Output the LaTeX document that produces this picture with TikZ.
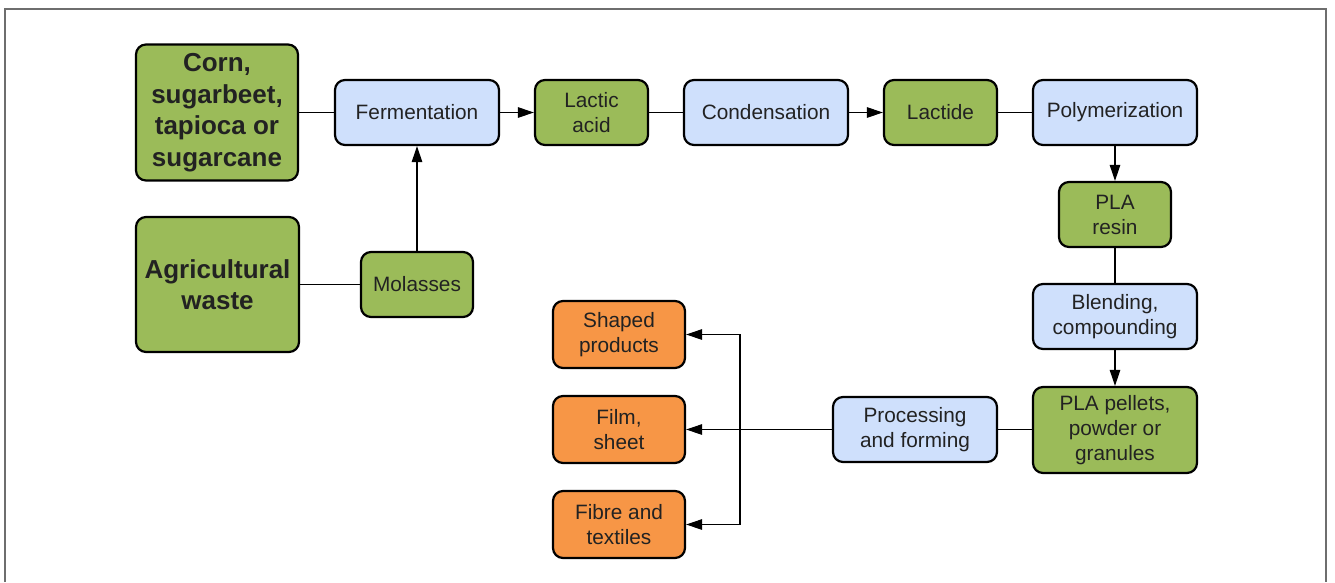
\documentclass[tikz,border=0pt]{standalone}
\usepackage{fontspec}
\setmainfont{Liberation Sans}
\usetikzlibrary{arrows.meta}
\definecolor{boxgreen}{HTML}{9BBB59}
\definecolor{boxblue}{HTML}{CFE0FC}
\definecolor{boxorange}{HTML}{F79646}
\definecolor{txt}{HTML}{222222}
\definecolor{framegray}{HTML}{6E6E6E}
\tikzset{
  box/.style={draw=black, line width=2.2pt, rounded corners=10pt, inner sep=0pt,
    align=center, text=txt, font=\fontsize{20.8}{25}\selectfont},
  gbox/.style={box, fill=boxgreen},
  bbox/.style={box, fill=boxblue},
  obox/.style={box, fill=boxorange},
  big/.style={font=\fontsize{26}{31.5}\selectfont\bfseries},
  conn/.style={draw=black, line width=1.1pt},
  arr/.style={conn, -{Triangle[length=16pt,width=10.5pt]}}
}
\begin{document}
\begin{tikzpicture}[x=1pt,y=-1pt]
\useasboundingbox (0,0) rectangle (1335,582);
\draw[framegray, line width=1.6pt] (5,582) -- (5,9) -- (1326,9) -- (1326,582);

\node[gbox, big, minimum width=162pt, minimum height=136pt] (corn) at (217,112.5) {Corn,\\sugarbeet,\\tapioca or\\sugarcane};
\node[gbox, big, minimum width=163pt, minimum height=135pt] (agri) at (217.5,284.5) {Agricultural\\waste};
\node[bbox, minimum width=164pt, minimum height=65pt] (ferm) at (417,112.5) {Fermentation};
\node[gbox, minimum width=113pt, minimum height=65pt] (lactic) at (591.5,112.5) {Lactic\\acid};
\node[bbox, minimum width=164pt, minimum height=65pt] (cond) at (766,112.5) {Condensation};
\node[gbox, minimum width=113pt, minimum height=65pt] (lactide) at (940.5,112.5) {Lactide};
\node[bbox, minimum width=164pt, minimum height=65pt] (poly) at (1115,112.5) {Polymerization};
\node[gbox, minimum width=112pt, minimum height=65pt] (resin) at (1115,214.5) {PLA\\resin};
\node[bbox, minimum width=164pt, minimum height=65pt] (blend) at (1115,316.5) {Blending,\\compounding};
\node[gbox, minimum width=164pt, minimum height=86pt] (pellets) at (1115,430) {PLA pellets,\\powder or\\granules};
\node[bbox, minimum width=164pt, minimum height=65pt] (proc) at (915,429.5) {Processing\\and forming};
\node[gbox, minimum width=112pt, minimum height=65pt] (mol) at (417,284.5) {Molasses};
\node[obox, minimum width=132pt, minimum height=67pt] (shaped) at (619,334.5) {Shaped\\products};
\node[obox, minimum width=132pt, minimum height=67pt] (film) at (619,429.5) {Film,\\sheet};
\node[obox, minimum width=132pt, minimum height=67pt] (fibre) at (619,524.5) {Fibre and\\textiles};
\coordinate (j) at (740,429.5);

\draw[conn] (corn.east |- ferm.west) -- (ferm.west);
\draw[conn] (agri.east |- mol.west) -- (mol.west);
\draw[arr] (mol.north) -- (ferm.south);
\draw[arr] (ferm.east) -- (lactic.west);
\draw[conn] (lactic.east) -- (cond.west);
\draw[arr] (cond.east) -- (lactide.west);
\draw[conn] (lactide.east) -- (poly.west);
\draw[arr] (poly.south) -- (resin.north);
\draw[conn] (resin.south) -- (blend.north);
\draw[arr] (blend.south) -- (pellets.north);
\draw[conn] (pellets.west |- proc.east) -- (proc.east);
\draw[arr] (proc.west) -- (film.east);
\draw[arr] (j) |- (shaped.east);
\draw[arr] (j) |- (fibre.east);
\end{tikzpicture}
\end{document}
